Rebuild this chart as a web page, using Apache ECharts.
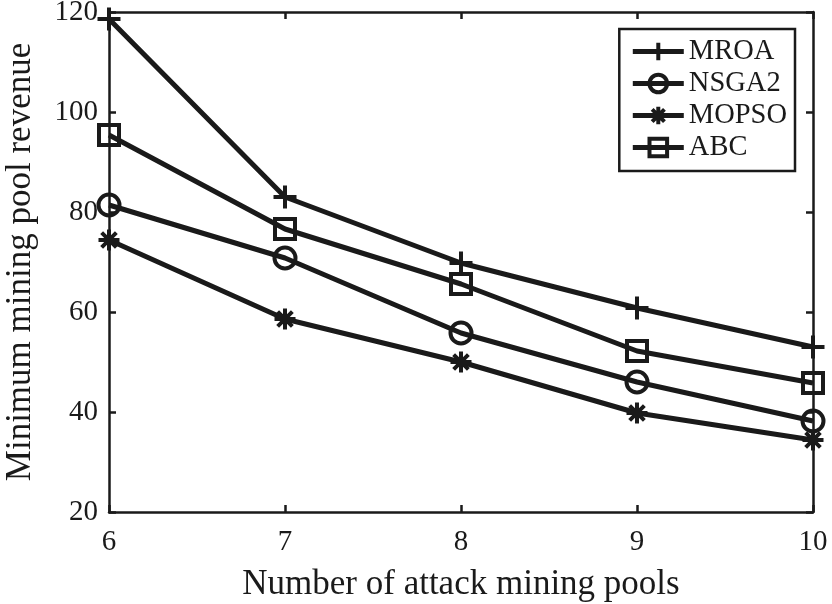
<!DOCTYPE html>
<html>
<head>
<meta charset="utf-8">
<script src="https://cdn.jsdelivr.net/npm/echarts@6/dist/echarts.min.js"></script>
<style>
  html, body { margin: 0; padding: 0; background: #fff; }
  #chart { width: 832px; height: 604px; }
</style>
</head>
<body>
<div id="chart"></div>
<script>
const pools = [6, 7, 8, 9, 10];
const mroa = [118.6, 83, 69.8, 60.8, 53];
const nsga2 = [81.4, 70.8, 55.8, 46, 38.2];
const mopso = [74.4, 58.6, 50, 39.8, 34.4];
const abc = [95.4, 76.6, 65.6, 52.2, 45.8];

const ink = "#1a1a1a";
const font = "Liberation Serif";

const plusPath = "path://M10,0 L10,20 M0,10 L20,10";
const starPath = "path://M10,0 L10,20 M0,10 L20,10 M3,3 L17,17 M17,3 L3,17";
const squarePath = "path://M2,2 L18,2 L18,18 L2,18 Z";

function pairs(vals) {
  return pools.map((x, i) => [x, vals[i]]);
}

function makeSeries(name, vals, symbol, size) {
  return {
    name: name,
    type: "line",
    data: pairs(vals),
    symbol: symbol,
    symbolSize: size,
    showAllSymbol: true,
    lineStyle: { color: ink, width: 5 },
    itemStyle: { color: "none", borderColor: ink, borderWidth: 4 },
    emphasis: { disabled: true },
    z: 3,
  };
}

const chart = echarts.init(document.getElementById("chart"));

const axisCommon = {
  axisLine: { lineStyle: { color: ink, width: 2.5 } },
  axisTick: { inside: true, length: 7, lineStyle: { color: ink, width: 2.5 } },
  splitLine: { show: false },
};

chart.setOption({
  animation: false,
  backgroundColor: "#fff",
  grid: { left: 109, right: 19, top: 12, bottom: 92, outerBoundsMode: "none", containLabel: false },
  legend: {
    right: 37,
    top: 29,
    orient: "vertical",
    itemWidth: 51,
    itemHeight: 22,
    itemGap: 3,
    padding: [8, 8, 9, 11],
    borderColor: ink,
    borderWidth: 2.5,
    backgroundColor: "#fff",
    lineStyle: { width: 5 },
    itemStyle: { borderWidth: 4 },
    textStyle: { fontFamily: font, fontSize: 28.5, color: ink },
    data: ["MROA", "NSGA2", "MOPSO", "ABC"],
  },
  xAxis: [
    Object.assign({
      type: "value",
      min: 6,
      max: 10,
      interval: 1,
      name: "Number of attack mining pools",
      nameLocation: "middle",
      nameGap: 55,
      nameTextStyle: { fontFamily: font, fontSize: 35, color: ink },
      axisLabel: { fontFamily: font, fontSize: 29, color: ink, margin: 16 },
    }, axisCommon),
    Object.assign({
      type: "value",
      position: "top",
      min: 6,
      max: 10,
      interval: 1,
      axisLabel: { show: false },
    }, axisCommon),
  ],
  yAxis: [
    Object.assign({
      type: "value",
      min: 20,
      max: 120,
      interval: 20,
      name: "Minimum mining pool revenue",
      nameLocation: "middle",
      nameGap: 71,
      nameTextStyle: { fontFamily: font, fontSize: 35, color: ink },
      axisLabel: { fontFamily: font, fontSize: 29, color: ink, margin: 11 },
    }, axisCommon),
    Object.assign({
      type: "value",
      position: "right",
      min: 20,
      max: 120,
      interval: 20,
      axisLabel: { show: false },
    }, axisCommon),
  ],
  series: [
    makeSeries("MROA", mroa, plusPath, 23),
    makeSeries("NSGA2", nsga2, "circle", 21),
    makeSeries("MOPSO", mopso, starPath, 21),
    makeSeries("ABC", abc, squarePath, 20),
  ],
});
</script>
</body>
</html>
